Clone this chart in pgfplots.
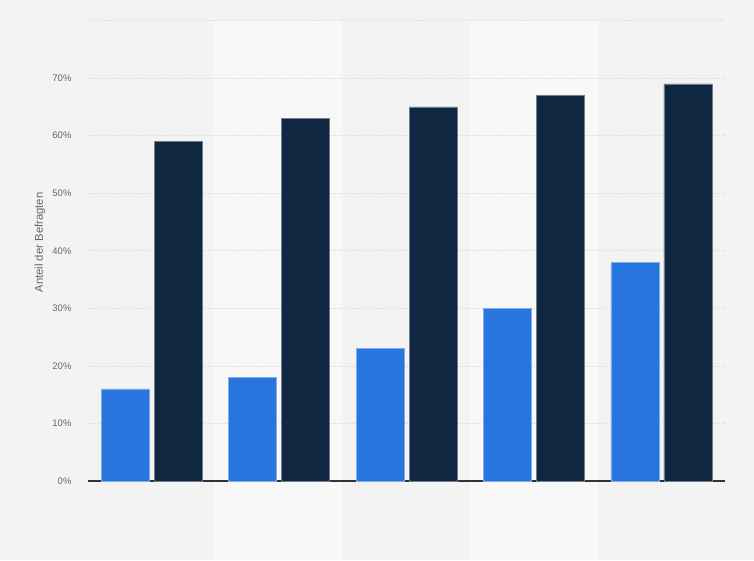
\documentclass[border=0pt]{standalone}
\usepackage{fontspec}
\setmainfont{Liberation Sans}
\usepackage{pgfplots}
\pgfplotsset{compat=1.18}

\definecolor{bg}{HTML}{F3F3F3}
\definecolor{band}{HTML}{F8F8F8}
\definecolor{barblue}{HTML}{2876DD}
\definecolor{barnavy}{HTML}{0F2741}
\definecolor{txt}{HTML}{666666}
\definecolor{gridc}{HTML}{D6D6D6}

\begin{document}
\begin{tikzpicture}[x=1pt,y=1pt]
% page: 754 x 560 (1pt = 1px)
\fill[bg] (0,0) rectangle (754,560);
\useasboundingbox (0,0) rectangle (754,560);
% lighter bands behind categories 2 and 4
\fill[band] (214,0) rectangle (342,540);
\fill[band] (470,0) rectangle (598,540);

\begin{axis}[
    at={(88pt,79pt)}, anchor=south west,
    scale only axis,
    width=637pt, height=460.5pt,
    xmin=-0.5, xmax=4.5,
    ymin=0, ymax=80,
    ybar=5pt, bar width=48pt,
    xtick=\empty,
    ytick={0,10,20,30,40,50,60,70},
    extra y ticks={80},
    extra y tick labels={},
    yticklabel={\pgfmathprintnumber{\tick}\%},
    /pgf/number format/assume math mode=true,
    yticklabel style={font=\fontsize{9.5}{11}\selectfont, text=txt, xshift=-13pt},
    major tick length=0pt,
    ymajorgrids=true,
    grid style={dotted, gridc, line width=0.6pt},
    extra tick style={grid style={dotted, gridc, line width=0.6pt}},
    axis lines*=left,
    y axis line style={draw=none},
    x axis line style={draw=black!80, line width=1.2pt},
    ylabel={Anteil der Befragten},
    ylabel style={at={(axis description cs:-0.0754,0.518)}, anchor=center,
        font=\fontsize{11.3}{13}\selectfont, text=txt},
    clip=false,
]
\addplot[fill=barblue, draw=barblue!60!white, line width=0.5pt] coordinates {
    (0,16) (1,18) (2,23) (3,30) (4,38)
};
\addplot[fill=barnavy, draw=barnavy!60!white, line width=0.5pt] coordinates {
    (0,59) (1,63) (2,65) (3,67) (4,69)
};
\end{axis}
\end{tikzpicture}
\end{document}
